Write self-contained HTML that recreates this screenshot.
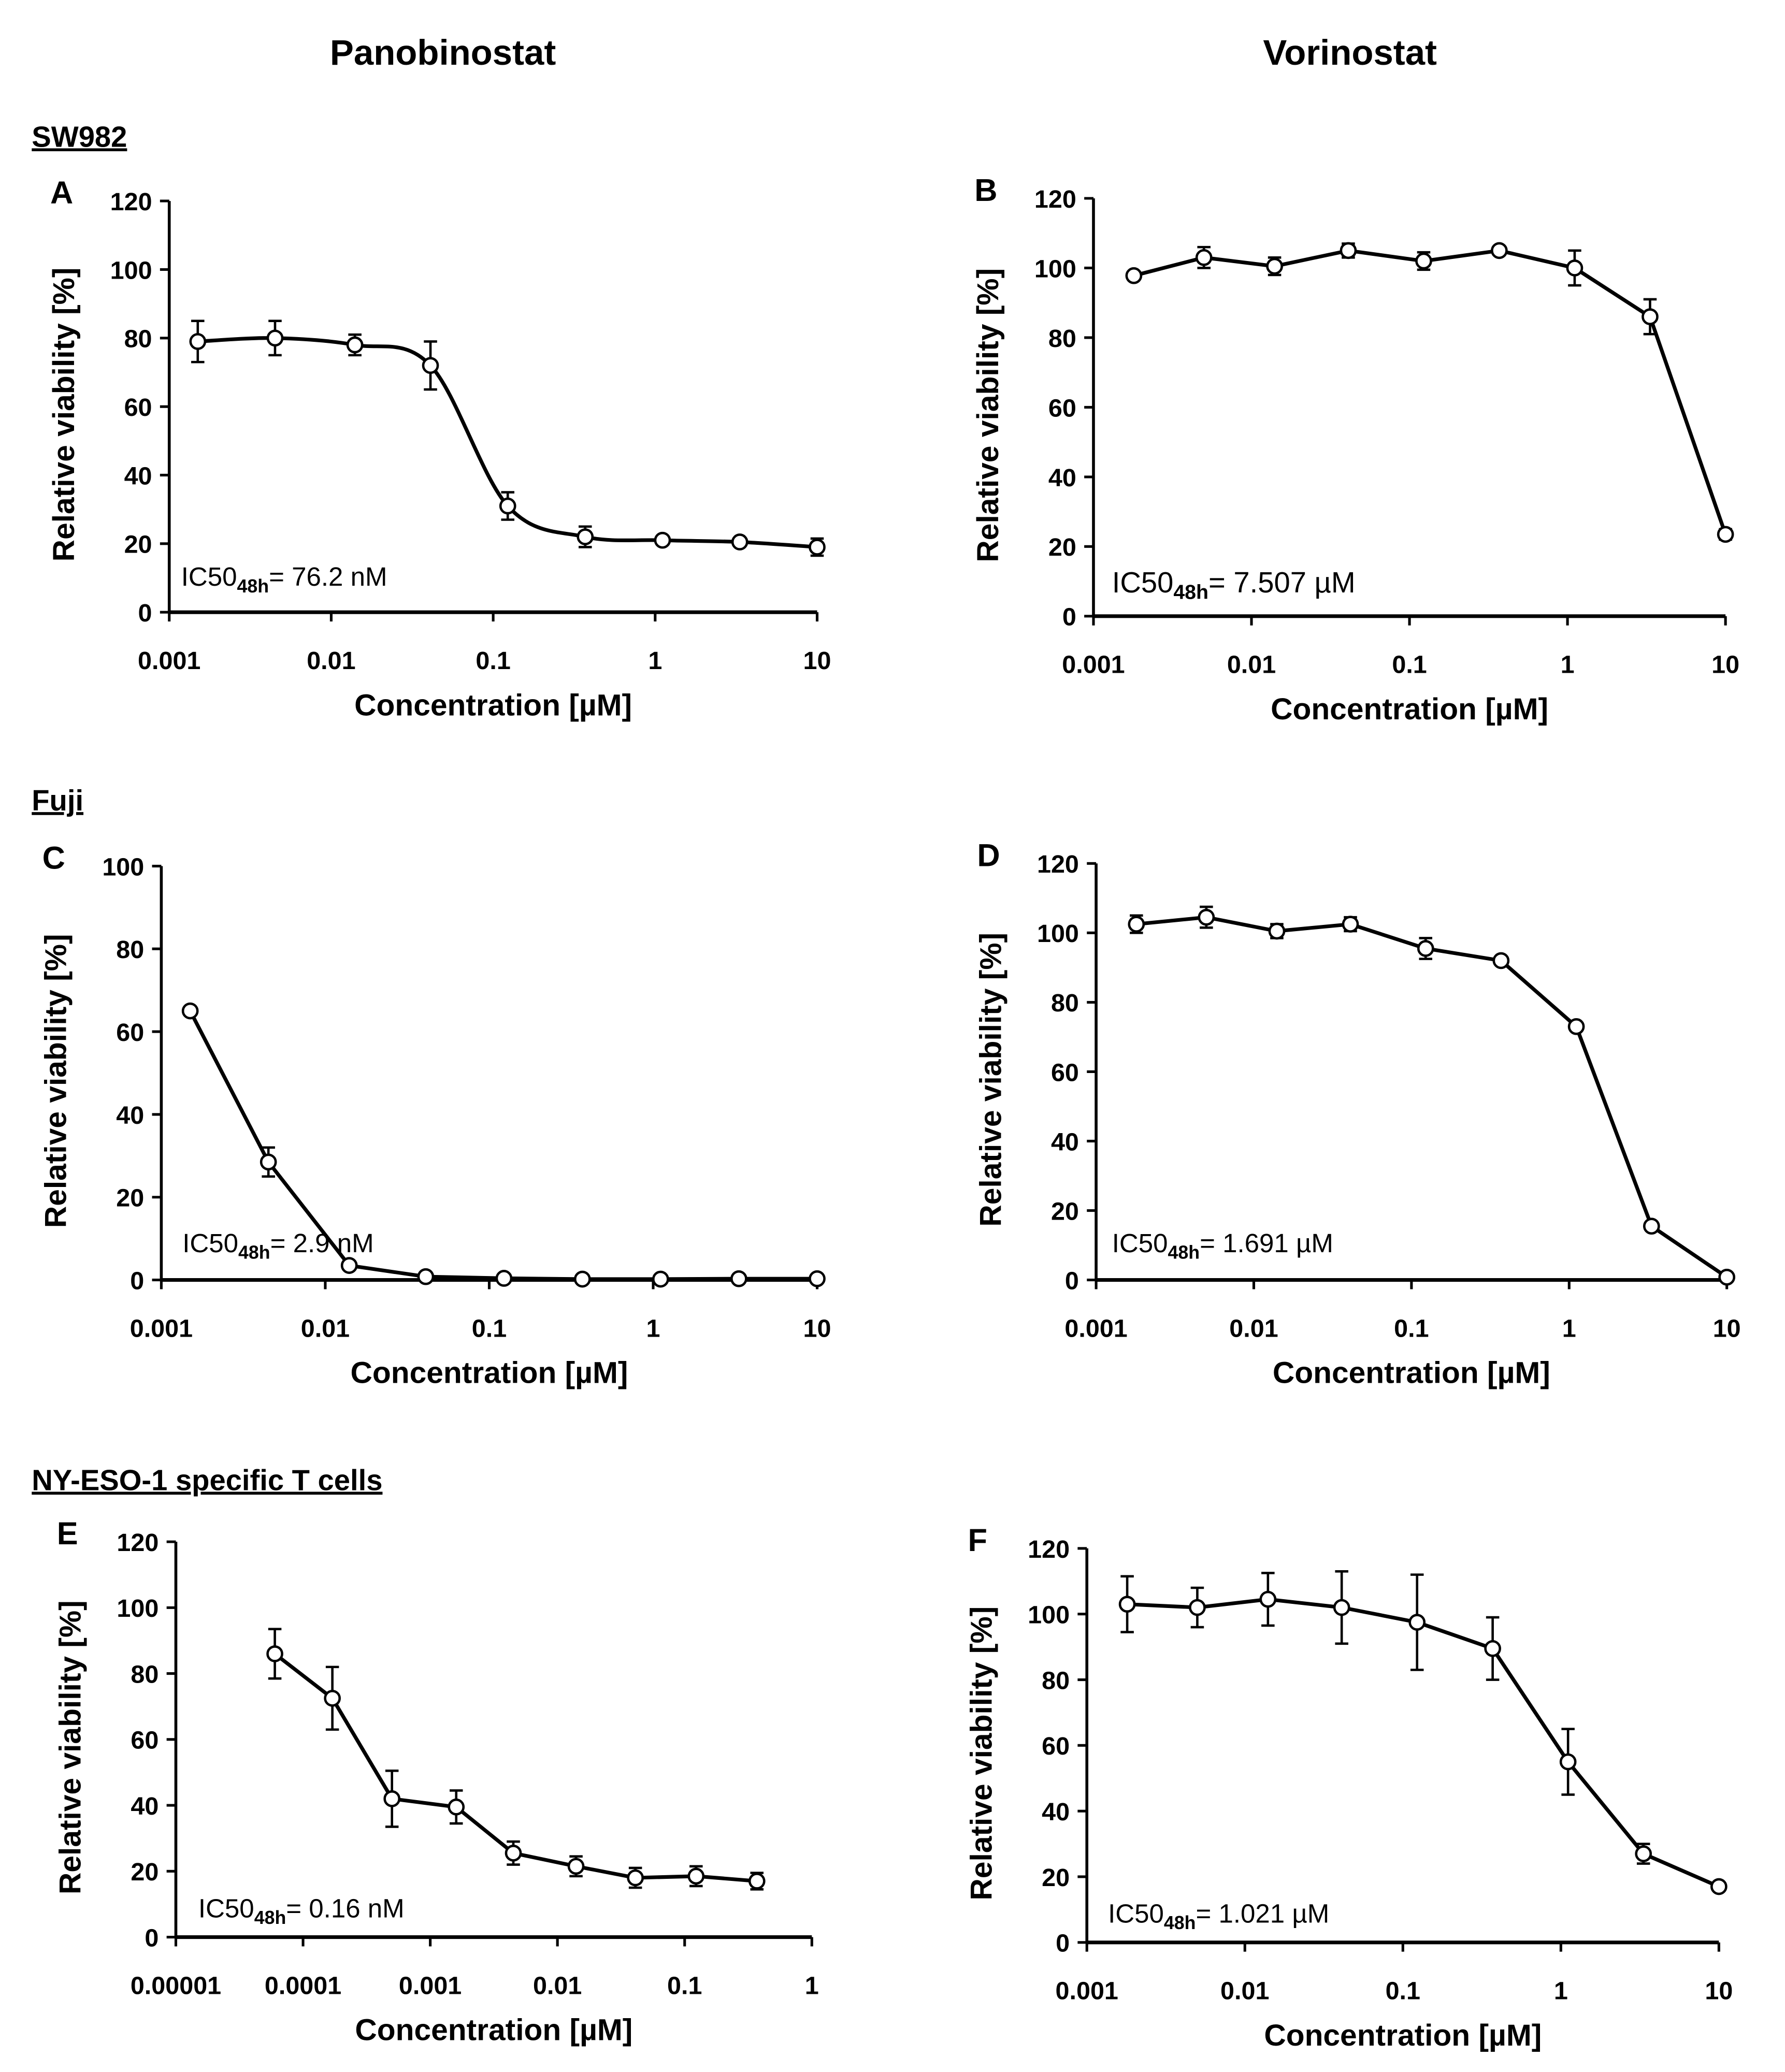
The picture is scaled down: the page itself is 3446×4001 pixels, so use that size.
<!DOCTYPE html>
<html><head><meta charset="utf-8"><style>
html,body{margin:0;padding:0;background:#fff;}
svg{display:block;}
text{font-family:"Liberation Sans",sans-serif;fill:#000;}
</style></head><body>
<svg id="fig" width="3446" height="4001" viewBox="0 0 1350 1567" preserveAspectRatio="none" xmlns="http://www.w3.org/2000/svg">
<text x="335" y="49" font-size="27" font-weight="bold" text-anchor="middle">Panobinostat</text>
<text x="1021" y="49" font-size="27" font-weight="bold" text-anchor="middle">Vorinostat</text>
<text x="24" y="111" font-size="22" font-weight="bold" text-decoration="underline">SW982</text>
<text x="24" y="613" font-size="22" font-weight="bold" text-decoration="underline">Fuji</text>
<text x="24" y="1127" font-size="22" font-weight="bold" text-decoration="underline">NY-ESO-1 specific T cells</text>
</svg>
<script>
// Data arrays
const concA = [0.0015,0.0045,0.014,0.041,0.123,0.37,1.11,3.33,10];
const valA = [79,80,78,72,31,22,21,20.5,19];
const errA = [6,5,3,7,4,3,1,1,2.5];
const concB = [0.0018,0.005,0.014,0.041,0.123,0.37,1.11,3.33,10];
const valB = [97.8,103,100.5,105,102,105,100,86,23.5];
const errB = [1,3,2.5,2,2.5,1,5,5,1.5];
const concC = [0.0015,0.0045,0.014,0.041,0.123,0.37,1.11,3.33,10];
const valC = [65,28.5,3.5,0.8,0.4,0.2,0.2,0.3,0.3];
const errC = [1,3.5,1,0.5,0.3,0.2,0.2,0.2,0.2];
const concD = [0.0018,0.005,0.014,0.041,0.123,0.37,1.11,3.33,10];
const valD = [102.5,104.5,100.5,102.5,95.5,92,73,15.5,0.8];
const errD = [2.5,3,2,2,3,1,1,1,0.5];
const concE = [0.00006,0.00017,0.0005,0.0016,0.0045,0.014,0.041,0.123,0.37];
const valE = [86,72.5,42,39.5,25.5,21.5,18,18.5,17];
const errE = [7.5,9.5,8.5,5,3.5,3,3,3,2.5];
const concF = [0.0018,0.005,0.014,0.041,0.123,0.37,1.11,3.33,10];
const valF = [103,102,104.5,102,97.5,89.5,55,27,17];
const errF = [8.5,6,8,11,14.5,9.5,10,3,1];
const xTicks3 = ["0.001","0.01","0.1","1","10"];
const xTicks5 = ["0.00001","0.0001","0.001","0.01","0.1","1"];

const NS="http://www.w3.org/2000/svg";
const svg=document.getElementById('fig');
function mk(tag,attrs,parent){const e=document.createElementNS(NS,tag);for(const k in attrs)e.setAttribute(k,attrs[k]);(parent||svg).appendChild(e);return e;}

const panels=[
 {id:'a',L:'A',x0:128,x1:618,y0:463,y1:152,lmin:-3,lmax:1,ymax:120,conc:concA,val:valA,err:errA,ticks:xTicks3,smooth:true,ic:'76.2 nM',icx:137,icy:443,ics:20},
 {id:'b',L:'B',x0:827,x1:1305,y0:466,y1:150,lmin:-3,lmax:1,ymax:120,conc:concB,val:valB,err:errB,ticks:xTicks3,ic:'7.507 µM',icx:841,icy:448,ics:22},
 {id:'c',L:'C',x0:122,x1:618,y0:968,y1:655,lmin:-3,lmax:1,ymax:100,conc:concC,val:valC,err:errC,ticks:xTicks3,ic:'2.9 nM',icx:138,icy:947,ics:20},
 {id:'d',L:'D',x0:829,x1:1306,y0:968,y1:653,lmin:-3,lmax:1,ymax:120,conc:concD,val:valD,err:errD,ticks:xTicks3,ic:'1.691 µM',icx:841,icy:947,ics:20},
 {id:'e',L:'E',x0:133,x1:614,y0:1465,y1:1166,lmin:-5,lmax:0,ymax:120,conc:concE,val:valE,err:errE,ticks:xTicks5,ic:'0.16 nM',icx:150,icy:1450,ics:20},
 {id:'f',L:'F',x0:822,x1:1300,y0:1469,y1:1171,lmin:-3,lmax:1,ymax:120,conc:concF,val:valF,err:errF,ticks:xTicks3,ic:'1.021 µM',icx:838,icy:1454,ics:20}
];

panels.forEach(p=>{
 const g=mk('g',{});
 
 
 const X=c=>p.x0+(Math.log10(c)-p.lmin)/(p.lmax-p.lmin)*(p.x1-p.x0);
 const Y=v=>p.y0-(v/p.ymax)*(p.y0-p.y1);
 const lt=mk('text',{x:p.x0-90,y:p.y1+2,'font-size':24,'font-weight':'bold'},g);lt.textContent=p.L;
 
 
 const ya=mk('line',{x1:p.x0,y1:p.y1,x2:p.x0,y2:p.y0,stroke:'#000','stroke-width':2.2},g);
 
 
 const xa=mk('line',{x1:p.x0,y1:p.y0,x2:p.x1,y2:p.y0,stroke:'#000','stroke-width':2.8},g);
 
 
 for(let v=0;v<=p.ymax;v+=20){
  mk('line',{x1:p.x0-7,y1:Y(v),x2:p.x0,y2:Y(v),stroke:'#000','stroke-width':2},g);
  const t=mk('text',{x:p.x0-13,y:Y(v)+7,'font-size':19,'font-weight':'bold','text-anchor':'end'},g);t.textContent=v;
  
  
 }
 p.ticks.forEach((s,i)=>{
  const x=X(Math.pow(10,p.lmin+i));
  mk('line',{x1:x,y1:p.y0,x2:x,y2:p.y0+7,stroke:'#000','stroke-width':2},g);
  const t=mk('text',{x:x,y:p.y0+43,'font-size':19,'font-weight':'bold','text-anchor':'middle'},g);t.textContent=s;
  
  
 });
 const xt=mk('text',{x:(p.x0+p.x1)/2,y:p.y0+78,'font-size':23,'font-weight':'bold','text-anchor':'middle'},g);xt.textContent='Concentration [µM]';
 
 
 const yc=(p.y0+p.y1)/2+6;
 const yt=mk('text',{x:0,y:0,'font-size':23,'font-weight':'bold','text-anchor':'middle',transform:`translate(${p.x0-72},${yc}) rotate(-90)`},g);yt.textContent='Relative viability [%]';
 
 
 const pts=p.conc.map((c,i)=>[X(c),Y(p.val[i])]);
 let d='M'+pts[0][0]+','+pts[0][1];
 if(p.smooth){
  for(let i=0;i<pts.length-1;i++){
   const p0=pts[Math.max(i-1,0)],p1=pts[i],p2=pts[i+1],p3=pts[Math.min(i+2,pts.length-1)];
   d+=` C${p1[0]+(p2[0]-p0[0])/6},${p1[1]+(p2[1]-p0[1])/6} ${p2[0]-(p3[0]-p1[0])/6},${p2[1]-(p3[1]-p1[1])/6} ${p2[0]},${p2[1]}`;
  }
 } else pts.slice(1).forEach(q=>d+=' L'+q[0]+','+q[1]);
 const ln=mk('path',{d:d,fill:'none',stroke:'#000','stroke-width':2.8},g);
 
 
 p.conc.forEach((c,i)=>{
  const x=X(c),v=p.val[i],e=p.err[i];
  const eb=mk('path',{d:`M${x},${Y(v+e)}V${Y(v-e)}M${x-5},${Y(v+e)}H${x+5}M${x-5},${Y(v-e)}H${x+5}`,stroke:'#000','stroke-width':1.8,fill:'none'},g);
  
  
  const pt=mk('circle',{cx:x,cy:Y(v),r:5.5,fill:'#fff',stroke:'#000','stroke-width':1.8},g);
  
  
 });
 const ic=mk('text',{x:p.icx,y:p.icy,'font-size':p.ics},g);
 ic.innerHTML='IC50<tspan font-size="'+(p.ics*0.7)+'" font-weight="bold" dy="5">48h</tspan><tspan dy="-5">= '+p.ic+'</tspan>';
 
 
});
</script>
</body></html>
